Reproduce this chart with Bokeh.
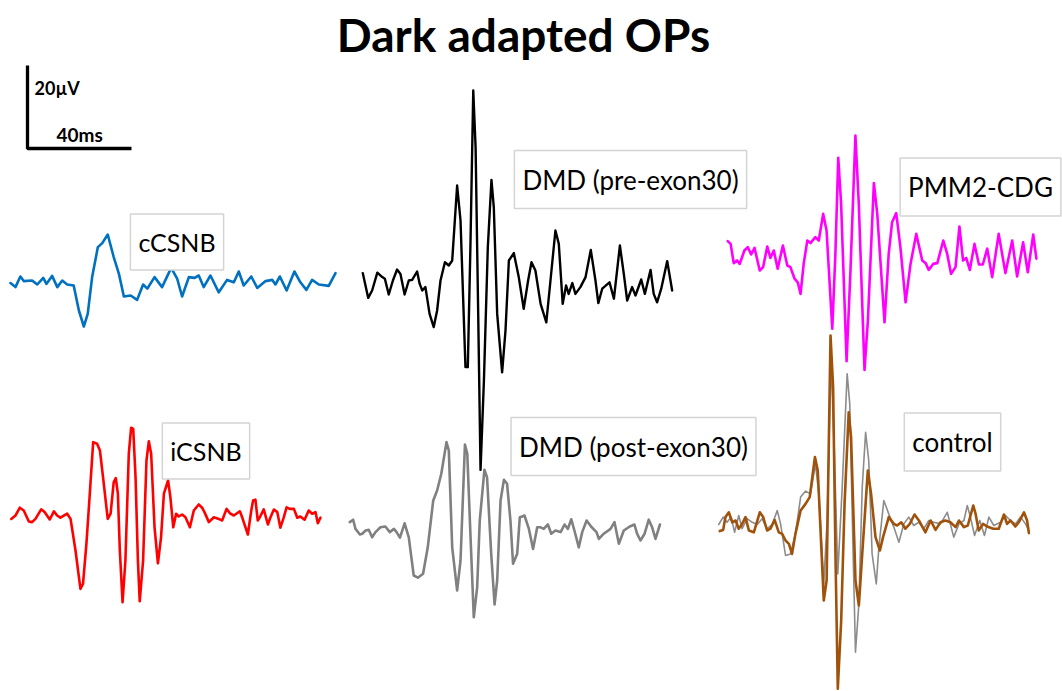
from bokeh.plotting import figure
from bokeh.models import Range1d, Label
from bokeh.embed import file_html
from bokeh.resources import INLINE
import numpy as np

# ---------------- data (time in ms from trace start, amplitude in µV) ----------------
ccsnb_t = [0, 1.9, 3.8, 5.1, 8.3, 10.3, 12.6, 13.8, 16.0, 18.0, 19.9, 21.8, 24.3, 26.3, 28.2, 29.7,
           31.4, 33.6, 35.3, 37.4, 39.7, 41.7, 43.6, 46.2, 48.7, 51.0, 52.6, 55.4, 58.3, 61.8, 64.1,
           66.0, 68.6, 70.8, 72.4, 74.3, 76.9, 80.1, 83.3, 85.9, 87.8, 89.7, 92.6, 94.9, 98.1, 100.7,
           101.9, 103.6, 106.2, 109.2, 111.5, 113.8, 116.0, 118.6, 122.4, 125.0]
ccsnb_uv = [-0.4, -1.4, 1.25, 0.1, 0.25, -0.75, 0.9, -0.6, 1.4, -1.4, 0.25, -0.75, -1.0, -7.25, -11.25, -8.1,
            1.1, 8.6, 9.6, 11.75, 6.1, 1.9, -3.75, -3.5, -4.6, -0.75, -1.8, 1.1, -1.4, 3.4, 0.7,
            -3.75, 1.1, 0.9, 1.5, -1.4, 1.5, -2.7, 0.4, -0.2, 2.5, -1.0, 1.25, -1.6, 0.1, 0.4,
            -0.75, 1.25, -2.25, 2.5, -0.2, -2.1, 0.4, -0.75, -1.1, 2.1]

dmd_pre_t = [0.1, 2.2, 3.7, 5.7, 7.6, 8.6, 10.1, 11.7, 13.3, 14.6, 16.2, 17.8, 19.1, 21.0, 22.0, 23.0,
             24.2, 25.8, 27.4, 28.7, 30.0, 31.7, 33.2, 34.5, 36.4, 37.7, 39.6, 40.5, 41.5, 42.6, 43.5,
             44.5, 45.4, 46.7, 48.2, 49.6, 50.5, 51.8, 53.7, 55.0, 56.3, 58.2, 60.1, 62.0, 63.7, 65.0,
             66.5, 68.5, 70.7, 72.3, 74.2, 75.5, 77.0, 78.3, 79.3, 80.7, 81.9, 83.8, 85.8, 87.8, 89.6,
             90.7, 92.2, 95.0, 96.7, 99.0, 100.5, 101.8, 103.7, 105.0, 107.2, 108.6, 110.8, 112.0,
             113.3, 114.9, 117.2, 119.1]
dmd_pre_uv = [2.6, -3.6, -1.75, 2.7, 1.6, 1.2, -2.75, 0.75, 3.5, 2.4, -2.75, 0.75, 0.9, 3.0, -0.1, -1.75,
              -0.9, -7.6, -10.9, -6.75, 0.75, 5.3, 4.5, 5.75, 24.5, 15.75, -20.9, -20.9, 9.1, 48.25, 34.1,
              -7.6, -46.6, -24.25, 9.1, 25.9, 19.1, -7.6, -22.2, -11.75, 5.75, 7.6, 1.6, -6.3, 0.75, 5.3,
              3.25, -5.1, -9.7, 0.75, 13.25, 9.9, -5.1, -0.5, -2.6, 0.1, -2.6, -0.9, 1.6, 8.4, 0.75,
              -4.9, -1.3, 0.3, -3.8, 9.5, 2.4, -4.25, -0.9, -3.0, 1.0, -2.6, 3.4, -2.6,
              -4.7, -1.3, 5.6, -1.75]

pmm2_t = [0.1, 1.2, 2.4, 3.7, 4.7, 6.5, 7.8, 9.1, 10.4, 12.4, 13.7, 15.3, 16.5, 17.8, 19.3, 21.3, 23.0,
          24.2, 25.8, 27.0, 28.1, 29.3, 30.7, 31.9, 33.8, 35.1, 36.8, 38.1, 40.3, 41.5, 42.6, 43.7,
          45.8, 47.3, 49.2, 50.5, 52.7, 54.0, 56.3, 57.6, 60.4, 62.0, 63.3, 64.9, 66.5, 68.5, 70.4,
          72.6, 74.9, 76.2, 77.4, 79.1, 80.7, 83.0, 84.5, 86.0, 87.7, 89.2, 90.6, 91.8, 93.2, 95.0,
          96.7, 98.2, 99.9, 101.8, 104.3, 106.9, 109.5, 111.4, 113.7, 115.5, 117.6, 118.8]
pmm2_uv = [3.6, 2.9, -1.9, -1.25, -2.1, 1.25, 2.1, 0.25, 1.9, -3.75, -2.9, 2.25, -0.6, 1.25, -3.3, 2.5, -2.5,
           -2.9, -5.8, -6.7, -9.6, -2.1, 3.75, 3.1, 4.6, 3.75, 10.4, 6.25, -18.3, 0.4, 24.4, 12.9,
           -26.4, -3.75, 30.0, 12.9, -28.6, -16.25, 18.1, 10.4, -16.7, 0.4, 8.3, 10.6, 2.1, -11.7, -2.1,
           5.4, -1.25, -1.9, -3.6, -2.1, -1.9, 3.75, 0.4, -4.6, -2.9, 7.25, -1.25, -0.6, -3.6, 2.9,
           -2.25, -2.25, 1.7, -5.4, 5.4, -4.4, 3.75, -5.25, 3.3, -4.2, 5.25, -0.8]

icsnb_t = [0.3, 1.9, 3.6, 5.1, 7.05, 8.3, 9.6, 11.8, 13.1, 15.1, 16.7, 17.9, 19.2, 21.8, 23.1, 25.0, 26.9,
           27.9, 29.2, 30.5, 31.8, 33.3, 34.4, 35.6, 37.4, 38.5, 39.7, 40.5, 41.3, 42.05, 43.1, 44.2,
           45.5, 46.4, 47.2, 48.1, 49.0, 49.7, 51.0, 52.3, 53.2, 54.1, 55.4, 56.7, 57.9, 59.0, 60.6,
           61.5, 62.6, 63.7, 64.7, 66.0, 67.3, 69.0, 70.5, 72.4, 73.7, 74.6, 76.3, 78.2, 80.1, 81.4,
           83.1, 84.4, 85.9, 88.2, 89.1, 91.3, 92.6, 93.3, 94.2, 95.1, 95.9, 97.4, 99.0, 100.0, 101.3,
           102.6, 103.8, 105.1, 106.2, 107.4, 109.0, 110.3, 111.5, 113.1, 114.7, 116.0, 117.3, 118.2, 119.2]
icsnb_uv = [-0.6, 0.25, 2.2, 1.5, -1.25, -1.4, -0.6, 1.8, 1.1, -0.75, 1.3, 0.25, -0.3, 0.7, -0.6, -8.5, -18.1,
            -16.8, -6.8, 5.7, 18.6, 18.2, 16.5, 9.8, -0.6, 0.7, 8.6, 9.6, 5.7, -8.5, -21.4, -11.0,
            15.7, 22.2, 21.9, 9.8, -11.0, -21.2, -11.0, 14.0, 18.8, 15.7, -2.7, -11.7, -5.2, 5.7, 9.0,
            4.8, -2.7, 0.7, 0.0, 0.5, -0.2, -2.7, 1.5, 3.0, 2.2, 1.1, -1.4, -0.2, -0.6, -1.0,
            1.9, 0.8, 0.25, 1.3, -0.2, -4.5, 1.5, 4.0, 4.2, -1.0, -0.2, 1.8, -2.0, -0.2, 1.75,
            1.1, -2.8, -0.2, 2.3, 1.9, 1.9, -0.3, 0.0, -0.8, 1.5, 0.7, 1.1, -1.7, -0.3]

dmd_post_t = [0.1, 1.4, 2.3, 4.0, 4.9, 6.2, 7.4, 8.7, 10.0, 11.9, 13.8, 15.5, 17.1, 18.1, 19.4, 21.2, 22.8,
              24.7, 26.3, 28.3, 30.1, 32.2, 33.7, 35.3, 37.3, 38.2, 39.5, 41.4, 42.7, 44.4, 45.3, 46.5,
              47.8, 49.1, 50.1, 51.9, 52.9, 54.5, 55.8, 56.8, 58.1, 59.4, 60.6, 61.9, 62.9, 64.5, 65.5,
              66.4, 67.3, 69.0, 70.6, 72.2, 73.5, 74.7, 76.3, 77.6, 79.2, 81.2, 82.7, 84.0, 85.3, 86.5,
              88.2, 89.5, 91.2, 92.9, 95.0, 95.9, 97.8, 100.4, 101.9, 103.6, 105.5, 107.8, 109.6, 110.6,
              111.9, 113.5, 115.1, 116.4, 117.7, 119.4]
dmd_post_uv = [2.1, 2.7, 0.4, -1.0, -0.8, 0.0, 0.2, -1.7, -0.4, 0.8, 1.0, -0.4, 0.4, -0.4, -1.8, 1.8, -1.7,
               -11.25, -11.8, -10.8, -4.2, 7.5, 10.0, 14.2, 22.1, 20.0, -4.2, -15.0, -7.5, 21.5, 19.2, -0.8,
               -21.7, -14.2, 2.5, 15.2, 13.3, -5.8, -18.5, -12.5, 7.5, 12.7, 11.7, 2.5, -8.3, -5.8, 3.3,
               3.5, 3.75, 0.4, -4.6, 0.8, 0.8, 0.4, 1.5, -0.8, 0.0, -0.4, 1.5, 0.4, 2.8, 0.0,
               -4.2, -0.4, 2.5, 1.0, -0.4, -2.1, -0.8, 0.4, 2.1, -3.3, 0.0, 1.0, 1.5, -0.8,
               -2.5, -0.8, 2.7, 0.8, -2.1, 1.5]

control_t = [0.1, 1.4, 2.3, 3.6, 4.9, 6.2, 7.4, 8.7, 10.0, 11.3, 13.2, 15.5, 16.8, 18.3, 19.6, 21.2, 22.8,
             24.1, 25.4, 26.7, 27.9, 29.2, 31.2, 33.1, 34.7, 36.7, 37.8, 40.1, 41.2, 42.7, 43.7, 44.6,
             45.5, 46.8, 48.1, 49.7, 50.6, 52.3, 53.6, 54.9, 57.05, 58.3, 60.0, 61.7, 62.9, 65.1, 67.05,
             68.3, 69.9, 71.5, 73.2, 75.0, 76.7, 79.2, 81.2, 83.1, 85.0, 86.9, 88.8, 90.8, 92.1, 94.0,
             95.5, 97.6, 98.5, 99.7, 101.4, 102.9, 105.3, 107.4, 109.4, 110.6, 111.9, 113.8, 115.1,
             117.1, 118.3, 119.0]
control_uv = [-1.4, -1.1, 2.1, 3.3, 0.8, 1.25, -0.8, 0.4, 2.1, -1.25, -1.7, 3.3, 2.1, -1.25, -0.8, 1.4, -1.7,
              -2.1, -3.75, -4.6, -7.1, -2.1, 3.75, 5.4, 7.1, 17.1, 13.75, -18.75, -13.75, 47.5, 34.6, -7.1,
              -40.8, -23.75, 5.4, 28.3, 22.1, -13.75, -20.0, -7.1, 13.75, 7.9, -2.9, -6.25, -2.9, 2.1, 0.4,
              0.0, 0.8, -0.8, 0.4, 2.75, 1.25, -1.7, 1.25, -1.1, 0.8, 1.25, 0.8, -0.4, 1.25, -0.4,
              0.0, 5.0, 2.9, -1.25, 0.4, -0.25, -0.8, -0.8, 2.75, 0.4, 1.25, -0.25, 0.8,
              3.3, 1.25, -1.9]

control_ref_t = [-0.3, 1.4, 2.9, 4.5, 5.8, 7.4, 8.7, 10.6, 12.6, 14.5, 16.4, 18.3, 20.3, 22.2, 23.5, 25.4,
                 27.3, 29.2, 31.2, 33.1, 35.0, 36.9, 38.2, 40.1, 41.4, 42.9, 44.2, 45.5, 47.2, 49.1, 50.1,
                 51.4, 52.3, 53.6, 54.9, 56.2, 57.4, 58.7, 60.3, 61.3, 63.2, 65.1, 67.05, 69.0, 70.9, 72.8,
                 74.7, 76.7, 78.6, 80.5, 82.4, 85.0, 87.6, 90.1, 92.1, 94.0, 95.3, 96.5, 98.1, 100.1, 101.9,
                 103.6, 105.5, 108.1, 110.0, 111.9, 113.8, 115.8, 117.7, 119.0]
control_ref_uv = [0.25, 2.1, 0.8, 2.1, -1.7, 2.5, -0.8, 1.7, 0.8, 0.25, 1.7, -0.8, 0.25, 3.75, 0.4, -7.5,
                  -7.1, -2.1, 7.1, 8.6, 7.9, 15.4, 7.9, -14.6, 1.25, 41.25, 17.9, -12.1, 9.6, 37.9, 30.4,
                  -7.1, -31.7, -19.6, 9.6, 23.3, 16.25, -7.1, -14.6, -5.4, 6.25, 2.9, -0.4, -4.2, 0.4, 2.1,
                  0.0, 0.8, -0.8, 1.25, 0.8, 0.4, 3.3, -2.9, 0.4, 1.25, 5.0, 2.1, -2.5, 1.25, -2.5,
                  2.1, 0.0, 0.8, 2.5, 1.25, 0.4, 2.1, 0.4, -1.25]

labels = ["cCSNB", "DMD (pre-exon30)", "PMM2-CDG", "iCSNB", "DMD (post-exon30)", "control"]
title_text = "Dark adapted OPs"
scale_uv_text = "20µV"
scale_ms_text = "40ms"
scale_uv = 20
scale_ms = 40

# ---------------- layout / style ----------------
W, H = 1062, 691
PX_PER_MS = 2.6
PX_PER_UV = 4.0

def px(x, y):
    """page pixel -> data coords (ms, µV)"""
    return x / PX_PER_MS, -y / PX_PER_UV

FONT = "Lato"

p = figure(width=W, height=H, output_backend="svg", toolbar_location=None,
           x_range=Range1d(0, W / PX_PER_MS), y_range=Range1d(-H / PX_PER_UV, 0),
           x_axis_type=None, y_axis_type=None, min_border=0)
p.grid.visible = False
p.outline_line_color = None
p.background_fill_color = "white"
p.border_fill_color = "white"

# trace origins (start pixel x, baseline pixel y)
traces = [
    (control_ref_t, control_ref_uv, (719, 525), "#8c8c8c", 1.6),
    (ccsnb_t, ccsnb_uv, (10, 281), "#0070C0", 2.6),
    (icsnb_t, icsnb_uv, (10, 516), "#FF0000", 2.6),
    (dmd_post_t, dmd_post_uv, (349, 530), "#808080", 2.6),
    (dmd_pre_t, dmd_pre_uv, (362, 283), "#000000", 2.4),
    (pmm2_t, pmm2_uv, (727, 255), "#FF00FF", 2.6),
    (control_t, control_uv, (719, 525), "#A0520A", 2.6),
]
for t, v, (x0, y0), col, lw in traces:
    ox, oy = px(x0, y0)
    p.line(np.array(t) + ox, np.array(v) + oy, line_color=col, line_width=lw,
           line_join="round", line_cap="round")

# scale bar
bx, by = px(27, 148)
p.line([bx, bx, bx + scale_ms], [by + scale_uv + 0.75, by, by], line_color="black", line_width=3.3)

def add_text(text, xpx, ypx, size, bold=False, align="left", box=False):
    x, y = px(xpx, ypx)
    kw = {}
    if box:
        kw = dict(background_fill_color="white", border_line_color="#d4d4d4",
                  border_line_width=1.5, padding=(8, 13))
    p.add_layout(Label(x=x, y=y, text=text, text_font=FONT, text_font_size=f"{size}px",
                       text_font_style="bold" if bold else "normal", text_color="black",
                       text_align=align, text_baseline="middle", **kw))

add_text(title_text, 523, 34, 46, bold=True, align="center")
add_text(scale_uv_text, 34, 87.5, 18, bold=True)
add_text(scale_ms_text, 56, 134, 19, bold=True)

label_pos = [(176.5, 241.5), (630, 179), (980, 186.5), (205.5, 450.5), (633, 446), (952, 441.5)]
label_size = [25, 26, 26, 25, 26, 26]
for lab, (lx, ly), sz in zip(labels, label_pos, label_size):
    add_text(lab, lx, ly, sz, align="center", box=True)

open("out.html", "w").write(file_html(p, INLINE))
